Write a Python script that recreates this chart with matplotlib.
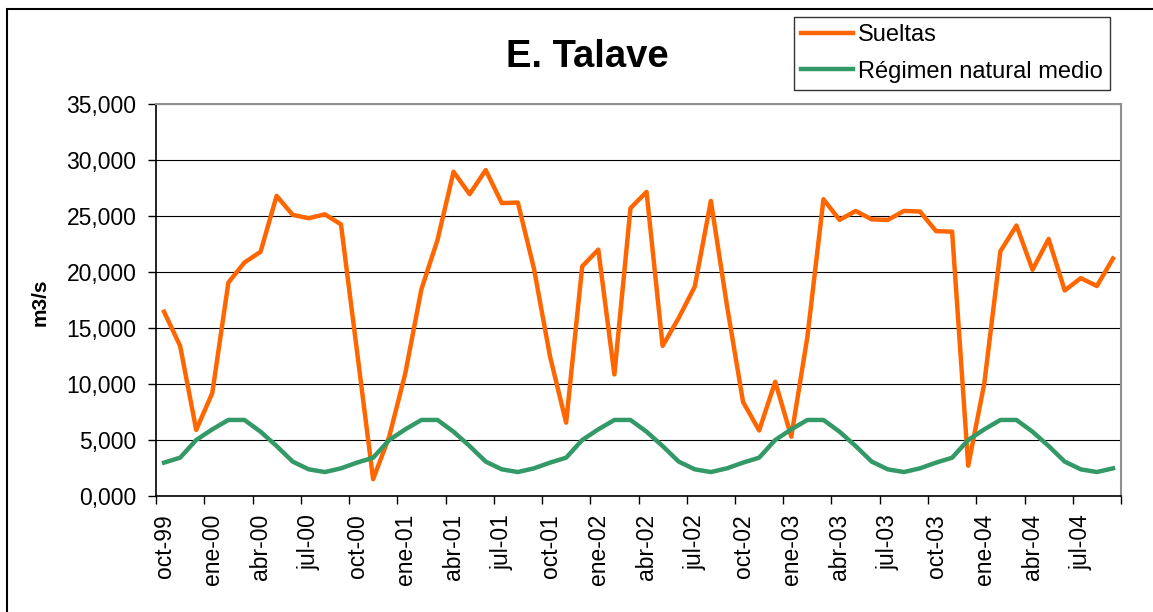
import matplotlib
matplotlib.use('Agg')
import matplotlib.pyplot as plt
from matplotlib.patches import Rectangle

plt.rcParams['font.family'] = ['Liberation Sans', 'DejaVu Sans']

# meses oct-99 .. sep-04
mes_nombres = ['ene', 'feb', 'mar', 'abr', 'may', 'jun',
               'jul', 'ago', 'sep', 'oct', 'nov', 'dic']
meses = []
for k in range(60):
    m = (9 + k) % 12
    a = (1999 + (9 + k) // 12) % 100
    meses.append('%s-%02d' % (mes_nombres[m], a))

sueltas = [16450, 13400, 5900, 9200, 19050, 20850, 21800, 26800, 25100, 24800,
           25150, 24250, 12900, 1500, 5300, 10950, 18450, 22850, 28950, 26950,
           29100, 26150, 26200, 20300, 12450, 6550, 20500, 22000, 10850, 25700,
           27150, 13400, 15900, 18700, 26350, 17000, 8400, 5850, 10200, 5300,
           14200, 26500, 24650, 25450, 24700, 24650, 25450, 25400, 23650, 23600,
           2700, 10050, 21850, 24150, 20200, 22950, 18350, 19450, 18750, 21200]

regimen = [2980, 3420, 5000, 5950, 6790, 6790, 5740, 4460, 3070, 2380, 2140, 2470,
           2980, 3420, 5000, 5950, 6790, 6790, 5740, 4460, 3070, 2380, 2140, 2470,
           2980, 3420, 5000, 5950, 6790, 6790, 5740, 4460, 3070, 2380, 2140, 2470,
           2980, 3420, 5000, 5950, 6790, 6790, 5740, 4460, 3070, 2380, 2140, 2470,
           2980, 3420, 5000, 5950, 6790, 6790, 5740, 4460, 3070, 2380, 2140, 2470]

y_ticks = [0, 5000, 10000, 15000, 20000, 25000, 30000, 35000]
y_labels = ['0,000', '5,000', '10,000', '15,000', '20,000', '25,000', '30,000', '35,000']


def draw():
    fig = plt.figure(figsize=(11.53, 6.12), dpi=100)
    ax = fig.add_axes([156 / 1153, 1 - 496 / 612, 965 / 1153, 392 / 612])

    x = list(range(len(meses)))
    ax.plot(x, sueltas, color='#FF6600', lw=3.2, label='Sueltas')
    ax.plot(x, regimen, color='#339966', lw=3.2, label='Régimen natural medio')

    ax.set_xlim(-0.5, len(meses) - 0.5)
    ax.set_ylim(0, 35000)
    ax.set_yticks(y_ticks)
    ax.set_yticklabels(y_labels, fontsize=16.5)
    ax.yaxis.grid(True, color='black', lw=0.8)
    ax.set_axisbelow(True)

    ax.set_xticks(x[::3])
    ax.set_xticklabels(meses[::3], rotation=90, fontsize=16.5)
    ax.set_xticks([p - 0.5 for p in range(0, 61, 3)], minor=True)
    ax.tick_params(axis='x', which='major', length=0, pad=13)
    ax.tick_params(axis='x', which='minor', length=6, width=1)
    ax.tick_params(axis='y', length=6, width=1, pad=8)

    for s in ['top', 'right']:
        ax.spines[s].set_color('#909090')
        ax.spines[s].set_linewidth(1.5)
    for s in ['left', 'bottom']:
        ax.spines[s].set_color('black')
        ax.spines[s].set_linewidth(1.2)

    fig.text(587 / 1153, 1 - 67 / 612, 'E. Talave', fontsize=27.5, fontweight='bold',
             ha='center', va='baseline')
    fig.text(40 / 1153, 1 - 302 / 612, 'm3/s', fontsize=15, fontweight='bold',
             rotation=90, ha='center', va='center')

    leg = fig.legend(loc='upper left', bbox_to_anchor=(794 / 1153, 1 - 17 / 612),
                     fontsize=17, frameon=True, fancybox=False, handlelength=2.2,
                     handletextpad=0.2, borderpad=0.3, labelspacing=0.62,
                     borderaxespad=0)
    leg.get_frame().set_edgecolor('black')
    leg.get_frame().set_linewidth(1)

    fig.patches.append(Rectangle((7 / 1153, -0.1), 1.2, 1.1 - 9 / 612,
                                 transform=fig.transFigure, fill=False,
                                 ec='black', lw=1.5))

    fig.savefig('out.png', dpi=100)


if __name__ == '__main__':
    draw()
